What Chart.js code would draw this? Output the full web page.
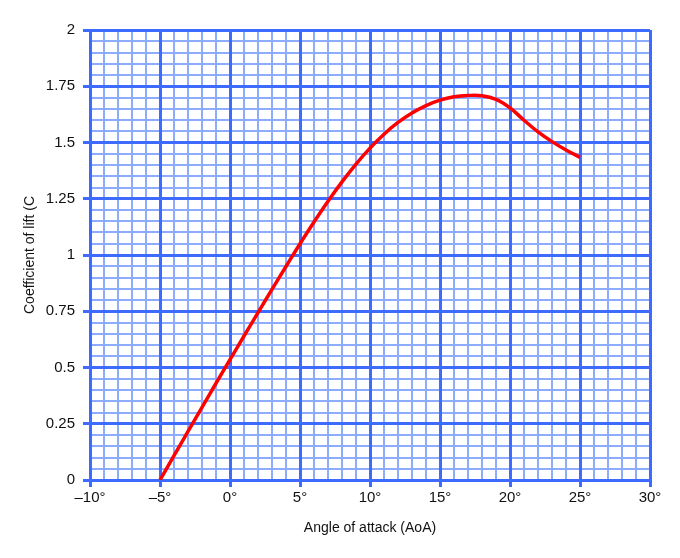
<!DOCTYPE html>
<html>
<head>
<meta charset="utf-8">
<script src="https://cdn.jsdelivr.net/npm/chart.js@4/dist/chart.umd.min.js"></script>
<style>
  html, body { margin: 0; padding: 0; background: #fff; }
  canvas { display: block; }
</style>
</head>
<body>
<canvas id="chart" width="680" height="558"></canvas>
<script>
// angle of attack (deg) and lift coefficient
const angles = [-5, -4, -3, -2, -1, 0, 1, 2, 3, 4, 5, 6, 7, 8, 9, 10,
                11, 12, 13, 14, 15, 16, 17, 18, 19, 20, 21, 22, 23, 24, 25];
const liftCoeff = [0, 0.108, 0.216, 0.323, 0.430, 0.535, 0.640, 0.744, 0.847, 0.949, 1.050,
                   1.147, 1.239, 1.325, 1.404, 1.475, 1.537, 1.589, 1.631, 1.664, 1.688,
                   1.703, 1.709, 1.708, 1.692, 1.654, 1.599, 1.547, 1.504, 1.467, 1.434];

const xMajorTicks = [-10, -5, 0, 5, 10, 15, 20, 25, 30];
const yMajorTicks = [0, 0.25, 0.5, 0.75, 1, 1.25, 1.5, 1.75, 2];

const MAJOR = '#3d6bff';
const MINOR = '#8dabff';
const FONT = 'Liberation Sans, Arial, sans-serif';

function xLabel(v) {
    return (v < 0 ? '\u2013' + Math.abs(v) : String(v)) + '\u00b0';
}
function yLabel(v) {
    return String(+v.toFixed(2));
}

const minorAxis = (min, max, step, pos) => ({
    type: 'linear',
    position: pos,
    min: min,
    max: max,
    ticks: { display: false, stepSize: step },
    grid: { color: MINOR, lineWidth: 2, drawTicks: false, z: -2 },
    border: { display: false },
    afterFit: (s) => { if (pos === 'bottom') s.height = 0; else s.width = 0; }
});

new Chart(document.getElementById('chart'), {
    type: 'line',
    data: {
        datasets: [{
            data: angles.map((a, i) => ({ x: a, y: liftCoeff[i] })),
            borderColor: '#ff0000',
            borderWidth: 3.5,
            pointRadius: 0,
            tension: 0.4,
            fill: false
        }]
    },
    options: {
        responsive: false,
        animation: false,
        layout: { padding: { top: 30, right: 30, bottom: 0, left: 0 } },
        plugins: { legend: { display: false }, tooltip: { enabled: false } },
        scales: {
            x: {
                type: 'linear',
                position: 'bottom',
                min: -10,
                max: 30,
                afterBuildTicks: (s) => { s.ticks = xMajorTicks.map(v => ({ value: v })); },
                afterFit: (s) => { s.height = 78; },
                ticks: {
                    callback: (v) => xLabel(v),
                    font: { family: FONT, size: 15 },
                    color: '#111',
                    padding: 2,
                    maxRotation: 0,
                    autoSkip: false
                },
                grid: { color: MAJOR, lineWidth: 3, tickLength: 7, tickColor: MAJOR, tickWidth: 3, z: -1 },
                border: { display: false },
                title: {
                    display: true,
                    text: 'Angle of attack (AoA)',
                    font: { family: FONT, size: 14 },
                    color: '#111',
                    padding: { top: 0, bottom: 21 }
                }
            },
            y: {
                type: 'linear',
                position: 'left',
                min: 0,
                max: 2,
                afterBuildTicks: (s) => { s.ticks = yMajorTicks.map(v => ({ value: v })); },
                afterFit: (s) => { s.width = 90; },
                ticks: {
                    callback: (v) => yLabel(v),
                    font: { family: FONT, size: 15 },
                    color: '#111',
                    padding: 8,
                    autoSkip: false
                },
                grid: { color: MAJOR, lineWidth: 3, tickLength: 7, tickColor: MAJOR, tickWidth: 3, z: -1 },
                border: { display: false },
                title: {
                    display: true,
                    text: 'Coefficient of lift (C',
                    font: { family: FONT, size: 14 },
                    color: '#111',
                    padding: { top: 22, bottom: 0 }
                }
            },
            xMinor: minorAxis(-10, 30, 1, 'bottom'),
            yMinor: minorAxis(0, 2, 0.05, 'left')
        }
    }
});
</script>
</body>
</html>
